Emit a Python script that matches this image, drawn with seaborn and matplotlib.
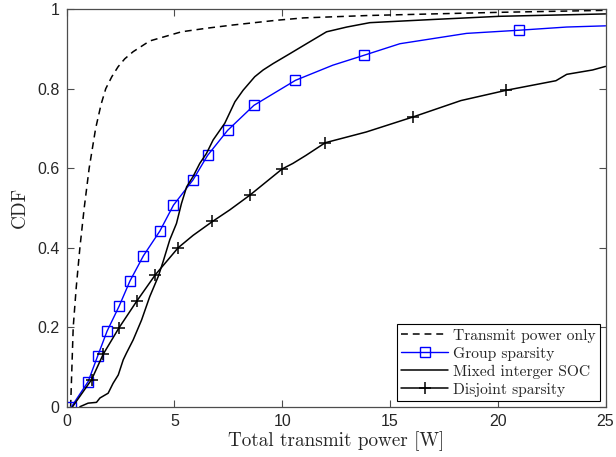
import matplotlib
matplotlib.use("Agg")
import matplotlib.pyplot as plt
import seaborn as sns
import numpy as np

# ---------------- data ----------------
transmit_x = [0.19, 0.25, 0.31, 0.45, 0.62, 0.82, 1.05, 1.35, 1.6, 1.82, 2.1, 2.39,
              2.7, 3.09, 3.86, 4.5, 5.33, 6.5, 7.7, 9.74, 11.0, 14.0, 17.0, 20.1, 25.0]
transmit_y = [0.0, 0.1, 0.2, 0.3, 0.4, 0.5, 0.6, 0.7, 0.76, 0.8, 0.83, 0.855,
              0.875, 0.893, 0.92, 0.93, 0.943, 0.952, 0.96, 0.972, 0.978, 0.984, 0.988, 0.992, 0.997]

group_x = [0.23, 1.0, 1.44, 1.88, 2.44, 2.94, 3.57, 4.33, 4.96, 5.86, 6.54, 7.47, 8.69,
           10.62, 12.35, 13.8, 15.46, 18.55, 21.0, 23.2, 25.0]
group_y = [0.0, 0.063, 0.127, 0.19, 0.253, 0.316, 0.380, 0.442, 0.507, 0.570, 0.632, 0.695, 0.758,
           0.821, 0.859, 0.884, 0.913, 0.939, 0.947, 0.955, 0.958]
group_marker_x = [0.23, 1.0, 1.44, 1.88, 2.44, 2.94, 3.57, 4.33, 4.96, 5.86, 6.54, 7.47, 8.69,
                  10.62, 13.8, 21.0]

mixed_x = [0.62, 1.0, 1.39, 1.55, 1.93, 2.16, 2.4, 2.63, 2.78, 3.09, 3.48, 3.86, 4.25, 4.48,
           4.79, 5.1, 5.33, 5.57, 5.87, 6.18, 6.49, 6.8, 7.34, 7.81, 8.19, 8.73, 9.12, 9.58,
           10.36, 11.13, 12.06, 13.0, 14.07, 17.0, 20.1, 25.0]
mixed_y = [0.0, 0.009, 0.011, 0.022, 0.034, 0.059, 0.08, 0.118, 0.135, 0.168, 0.218, 0.277, 0.327, 0.365,
           0.42, 0.461, 0.511, 0.553, 0.579, 0.612, 0.637, 0.671, 0.713, 0.767, 0.796, 0.83, 0.847, 0.863,
           0.888, 0.913, 0.943, 0.955, 0.966, 0.974, 0.982, 0.988]

disjoint_x = [0.28, 1.16, 1.7, 2.44, 3.25, 4.12, 5.18, 5.87, 6.77, 7.57, 8.5, 10.0, 10.5, 11.1,
              12.0, 13.9, 16.08, 18.29, 20.4, 22.7, 23.2, 24.4, 25.0]
disjoint_y = [0.0, 0.068, 0.132, 0.199, 0.265, 0.332, 0.4, 0.431, 0.466, 0.495, 0.532, 0.598, 0.612, 0.632,
              0.664, 0.691, 0.729, 0.77, 0.796, 0.82, 0.836, 0.847, 0.856]
disjoint_marker_x = [1.16, 1.7, 2.44, 3.25, 4.12, 5.18, 6.77, 8.5, 10.0, 12.0, 16.08, 20.4]

series_labels = ["Transmit power only", "Group sparsity", "Mixed interger SOC", "Disjoint sparsity"]
x_ticks = [0, 5, 10, 15, 20, 25]
y_ticks = [0, 0.2, 0.4, 0.6, 0.8, 1.0]
x_label = "Total transmit power [W]"
y_label = "CDF"

# ---------------- plot ----------------
sns.set_theme(style="white")
plt.rcParams["font.family"] = ["Liberation Sans", "DejaVu Sans"]

fig = plt.figure(figsize=(6.16, 4.57), dpi=100)
ax = fig.add_axes([0.108, 0.110, 0.875, 0.870])

serif = ["cmr10", "DejaVu Serif"]

def idx(xs, marks):
    return [xs.index(m) for m in marks]

sns.lineplot(x=transmit_x, y=transmit_y, sort=False, estimator=None, ax=ax,
             color="black", linewidth=1.1, label=series_labels[0])
ax.lines[-1].set_linestyle((0, (4.5, 3.2)))
sns.lineplot(x=group_x, y=group_y, sort=False, estimator=None, ax=ax,
             color="#0000ff", linewidth=1.0, marker="s", markersize=7,
             markerfacecolor="none", markeredgecolor="#0000ff", markeredgewidth=1.0,
             markevery=idx(group_x, group_marker_x), label=series_labels[1])
sns.lineplot(x=mixed_x, y=mixed_y, sort=False, estimator=None, ax=ax,
             color="black", linewidth=1.1, label=series_labels[2])
sns.lineplot(x=disjoint_x, y=disjoint_y, sort=False, estimator=None, ax=ax,
             color="black", linewidth=1.1, marker="+", markersize=9,
             markeredgecolor="black", markeredgewidth=1.1,
             markevery=idx(disjoint_x, disjoint_marker_x), label=series_labels[3])

ax.set_xlim(0, 25)
ax.set_ylim(0, 1)
ax.set_xticks(x_ticks)
ax.set_yticks(y_ticks)
ax.set_xticklabels([str(t) for t in x_ticks])
ax.set_yticklabels(["0", "0.2", "0.4", "0.6", "0.8", "1"])

spine_color = "#4d4d4d"
for s in ax.spines.values():
    s.set_visible(True)
    s.set_color(spine_color)
    s.set_linewidth(0.9)
ax.tick_params(direction="in", length=5, width=0.8, color=spine_color,
               top=True, right=True, bottom=True, left=True,
               labelsize=11.5, labelcolor="#262626", pad=5)

ax.set_xlabel(x_label, fontfamily=serif, fontsize=13.8, color="#262626", labelpad=2)
ax.set_ylabel(y_label, fontfamily=serif, fontsize=13.8, color="#262626", labelpad=6)

leg = ax.legend(loc="lower right", prop={"family": serif, "size": 11.2},
                frameon=True, fancybox=False, edgecolor="black", framealpha=1,
                borderpad=0.3, labelspacing=0.25, handlelength=3.0, handletextpad=0.3,
                borderaxespad=0.35, numpoints=1)
leg.get_frame().set_linewidth(0.8)

fig.savefig("out.png", dpi=100)
